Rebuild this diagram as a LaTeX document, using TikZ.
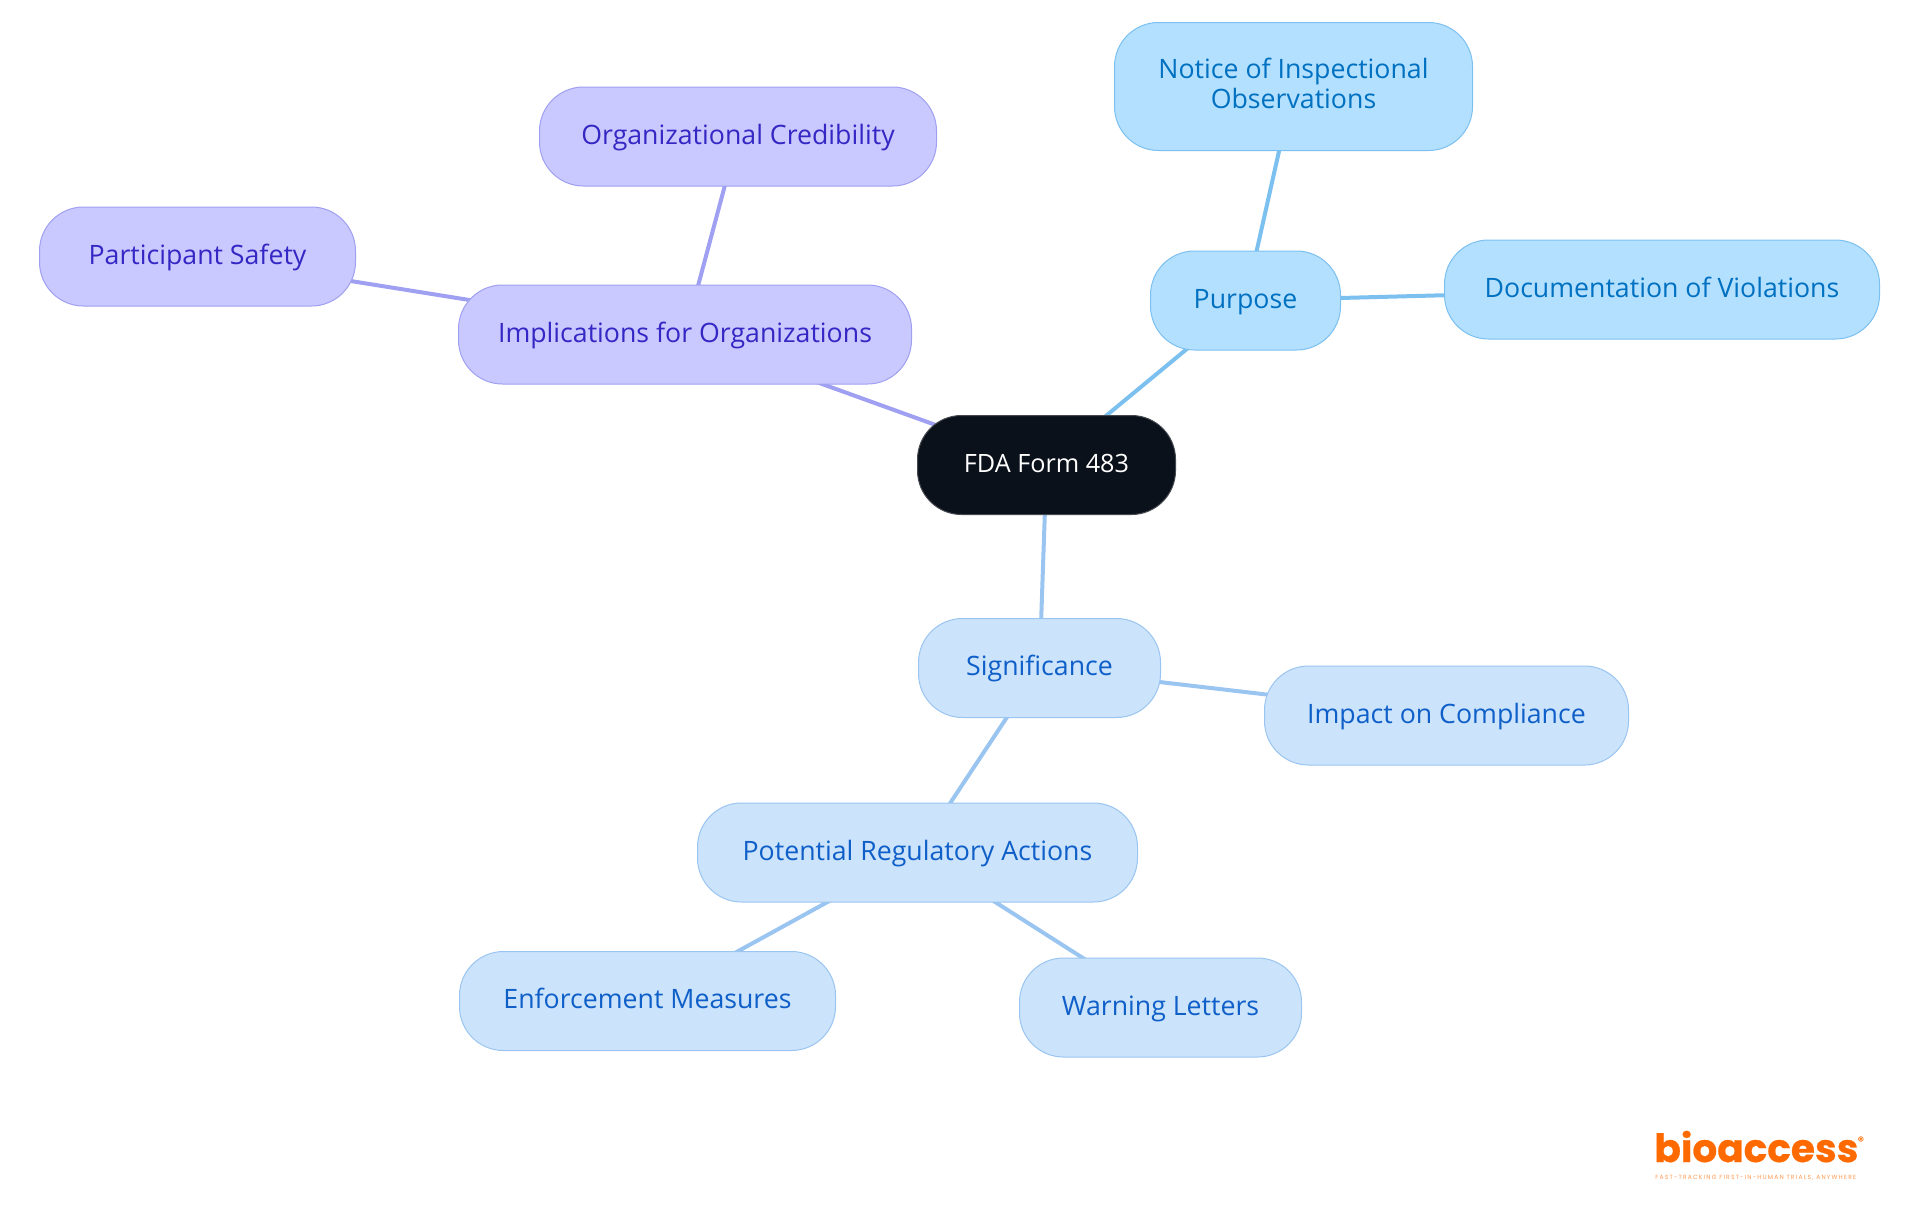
\documentclass[tikz,border=0pt]{standalone}
\usepackage{fontspec}
\setmainfont{Open Sans}
\newfontfamily\logofont{Poppins}
\usetikzlibrary{backgrounds}
\definecolor{purF}{HTML}{C9C9FF}\definecolor{purS}{HTML}{A0A0F2}\definecolor{purT}{HTML}{3427C4}
\definecolor{skyF}{HTML}{B3E0FF}\definecolor{skyS}{HTML}{7CC0F0}\definecolor{skyT}{HTML}{0070C0}
\definecolor{palF}{HTML}{CCE3FC}\definecolor{palS}{HTML}{9AC5F0}\definecolor{palT}{HTML}{0F5FC8}
\definecolor{rootF}{HTML}{0A111A}\definecolor{rootS}{HTML}{45494F}\definecolor{logoO}{HTML}{FF6A00}
\tikzset{
  x=0.5pt,y=-0.5pt,
  mm/.style={rectangle,rounded corners=22pt,line width=0.5pt,inner sep=0pt,align=center,
    text height=10.5pt,text depth=3pt,
    font=\fontsize{13.35}{14.7}\selectfont},
  pur/.style={mm,fill=purF,draw=purS,text=purT},
  sky/.style={mm,fill=skyF,draw=skyS,text=skyT},
  pal/.style={mm,fill=palF,draw=palS,text=palT},
  rootn/.style={mm,fill=rootF,draw=rootS,text=white,font=\fontsize{12.6}{15}\selectfont},
  lnk/.style={line width=2pt},
  box/.style args={#1x#2}{minimum width=#1*0.5pt,minimum height=#2*0.5pt}
}
\begin{document}
\begin{tikzpicture}
\useasboundingbox (0,0) rectangle (1920,1215);
\node[rootn,box=258x99] (root) at (1046.5,465) {FDA Form 483};
\node[sky,box=358x128,text height=24pt,text depth=2.5pt] (notice) at (1293.5,86.5) {Notice of Inspectional\\Observations};
\node[sky,box=190x99] (purpose) at (1245.5,300.5) {Purpose};
\node[sky,box=435x99] (doc) at (1662,289.5) {Documentation of Violations};
\node[pal,box=242x99] (sig) at (1039.5,668) {Significance};
\node[pal,box=364x99] (impact) at (1446.5,715.5) {Impact on Compliance};
\node[pal,box=440x99] (pot) at (917.5,852.5) {Potential Regulatory Actions};
\node[pal,box=376x99] (enf) at (647.5,1001) {Enforcement Measures};
\node[pal,box=282x99] (warn) at (1160.5,1007.5) {Warning Letters};
\node[pur,box=453x99] (impl) at (685,334.5) {Implications for Organizations};
\node[pur,box=397x99] (org) at (738,136.5) {Organizational Credibility};
\node[pur,box=316x99] (part) at (197.5,256.5) {Participant Safety};
\begin{scope}[on background layer]
\draw[lnk,purS] (root.center) -- (impl.center);
\draw[lnk,purS] (impl.center) -- (org.center);
\draw[lnk,purS] (impl.center) -- (part.center);
\draw[lnk,skyS] (root.center) -- (purpose.center);
\draw[lnk,skyS] (purpose.center) -- (notice.center);
\draw[lnk,skyS] (purpose.center) -- (doc.center);
\draw[lnk,palS] (root.center) -- (sig.center);
\draw[lnk,palS] (sig.center) -- (impact.center);
\draw[lnk,palS] (sig.center) -- (pot.center);
\draw[lnk,palS] (pot.center) -- (enf.center);
\draw[lnk,palS] (pot.center) -- (warn.center);
\end{scope}
\node[anchor=base west,inner sep=0pt,text=logoO,font={\logofont\bfseries\addfontfeature{FakeBold=0.6}\fontsize{19.5}{20}\selectfont}] (logo) at (1654,1162) {bioaccess};
\node[inner sep=0pt,text=logoO,font={\logofont\bfseries\fontsize{6}{6}\selectfont}] (reg) at (1861,1141) {®};
\node[anchor=base west,inner sep=0pt,text=logoO!70,font={\logofont\addfontfeature{LetterSpace=20}\fontsize{3}{3}\selectfont}] (tag) at (1655,1179.5) {FAST-TRACKING FIRST-IN-HUMAN TRIALS, ANYWHERE};
\end{tikzpicture}
\end{document}
